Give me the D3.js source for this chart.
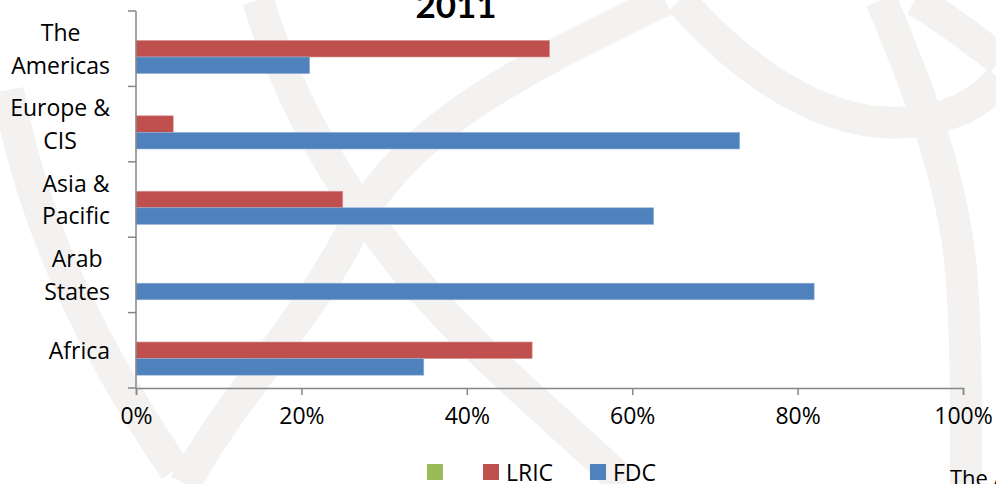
<!DOCTYPE html>
<html>
<head>
<meta charset="utf-8">
<script src="https://cdn.jsdelivr.net/npm/d3@7"></script>
<style>
  html, body { margin: 0; padding: 0; background: #ffffff; }
  svg { display: block; }
  text { font-family: "Open Sans", Lato, sans-serif; fill: #000; }
</style>
</head>
<body>
<div id="chart"></div>
<script>
// ---------- data ----------
const title = "2011";
const categories = ["The Americas", "Europe & CIS", "Asia & Pacific", "Arab States", "Africa"];
const categoryLines = [["The", "Americas"], ["Europe &", "CIS"], ["Asia &", "Pacific"], ["Arab", "States"], ["Africa"]];
const seriesNames = ["", "LRIC", "FDC"];
const seriesColors = ["#9BBB59", "#C0504D", "#4F81BD"];
const unnamedValues = [null, null, null, null, null];
const lricValues = [0.50, 0.045, 0.25, 0, 0.479];
const fdcValues = [0.21, 0.73, 0.626, 0.82, 0.348];
const xTicks = [0, 0.2, 0.4, 0.6, 0.8, 1.0];
const strayLabel = "The Americas";

// ---------- layout ----------
const W = 996, H = 484;
const FONT = 23;
const svg = d3.select("#chart").append("svg").attr("width", W).attr("height", H);

// faint background watermark (decorative logo strokes)
const wm = svg.append("g").attr("fill", "none").attr("stroke", "#f3f2f1")
  .attr("stroke-width", 32).attr("stroke-linecap", "butt");
[
  "M 8,90 C 25,180 60,300 175,470",
  "M 665,0 C 520,70 400,130 350,235 C 300,330 230,400 185,484",
  "M 258,0 C 300,140 380,250 470,340 C 520,390 580,440 625,484",
  "M 680,0 C 760,90 860,150 960,110 C 980,100 990,90 1000,80",
  "M 881,0 C 915,80 950,170 960,260 C 967,330 966,420 966,484",
  "M 915,0 C 950,20 980,45 1000,60"
].forEach(d => wm.append("path").attr("d", d));

const x = d3.scaleLinear().domain([0, 1]).range([136, 963]);
const y = d3.scaleBand().domain(categories).range([11, 388]).paddingInner(0).paddingOuter(0);
const bw = y.bandwidth();
const gap = bw * 0.34;
const sub = d3.scaleBand().domain(seriesNames).range([gap / 2, bw - gap / 2]);

const seriesValues = [unnamedValues, lricValues, fdcValues];
const edgeColors = ["#c3d69b", "#d99694", "#95b3d7"];

// bars
seriesNames.forEach((s, si) => {
  svg.append("g").selectAll("rect")
    .data(categories.map((c, i) => ({ c, v: seriesValues[si][i] })).filter(d => d.v != null && d.v > 0))
    .join("rect")
    .attr("x", x(0))
    .attr("y", d => y(d.c) + sub(s))
    .attr("width", d => x(d.v) - x(0))
    .attr("height", sub.bandwidth())
    .attr("fill", seriesColors[si])
    .attr("stroke", edgeColors[si]).attr("stroke-width", 0.6);
});

// x axis
const xAxis = svg.append("g").attr("transform", `translate(0,${388})`)
  .call(d3.axisBottom(x).tickValues(xTicks).tickFormat(d3.format(".0%")).tickSize(7).tickPadding(13));
xAxis.select(".domain").attr("stroke", "#868686").attr("stroke-width", 1.5);
xAxis.selectAll(".tick line").attr("stroke", "#868686").attr("stroke-width", 1.5);
xAxis.selectAll(".tick text").style("font-family", "'Open Sans', sans-serif").style("font-size", FONT + "px").attr("fill", "#000");

// y axis (ticks at category boundaries)
const yBound = [...categories.map(c => y(c)), y.range()[1]];
svg.append("line").attr("x1", 136).attr("x2", 136).attr("y1", y.range()[0]).attr("y2", y.range()[1])
  .attr("stroke", "#868686").attr("stroke-width", 1.5);
svg.append("g").selectAll("line").data(yBound).join("line")
  .attr("x1", 128).attr("x2", 136).attr("y1", d => d).attr("y2", d => d)
  .attr("stroke", "#868686").attr("stroke-width", 1.5);

// category labels: block right-aligned, lines centered
const lineH = 32.7;
categories.forEach((c, i) => {
  const lines = categoryLines[i];
  const g = svg.append("g");
  const ts = lines.map((l) => g.append("text")
    .attr("font-size", FONT).attr("text-anchor", "middle").text(l));
  const maxW = d3.max(ts, t => t.node().getComputedTextLength());
  const cx = 110 - maxW / 2;
  const cyCenter = y(c) + bw / 2;
  const firstBase = cyCenter + 8.5 - (lines.length - 1) * lineH / 2;
  ts.forEach((t, li) => t.attr("x", cx).attr("y", firstBase + li * lineH));
});

// title
svg.append("text").attr("x", 456).attr("y", 18).attr("text-anchor", "middle")
  .style("font-family", "Lato, sans-serif")
  .attr("font-size", 35).attr("font-weight", "bold").text(title);

// legend
const legendX = [427, 483, 590];
seriesNames.forEach((s, si) => {
  svg.append("rect").attr("x", legendX[si]).attr("y", 464).attr("width", 16).attr("height", 16)
    .attr("fill", seriesColors[si]);
  if (s) svg.append("text").attr("x", legendX[si] + 23).attr("y", 481).attr("font-size", FONT).text(s);
});

// clipped stray label at bottom right
svg.append("text").attr("x", 950).attr("y", 486).attr("font-size", 22).text(strayLabel);
</script>
</body>
</html>
